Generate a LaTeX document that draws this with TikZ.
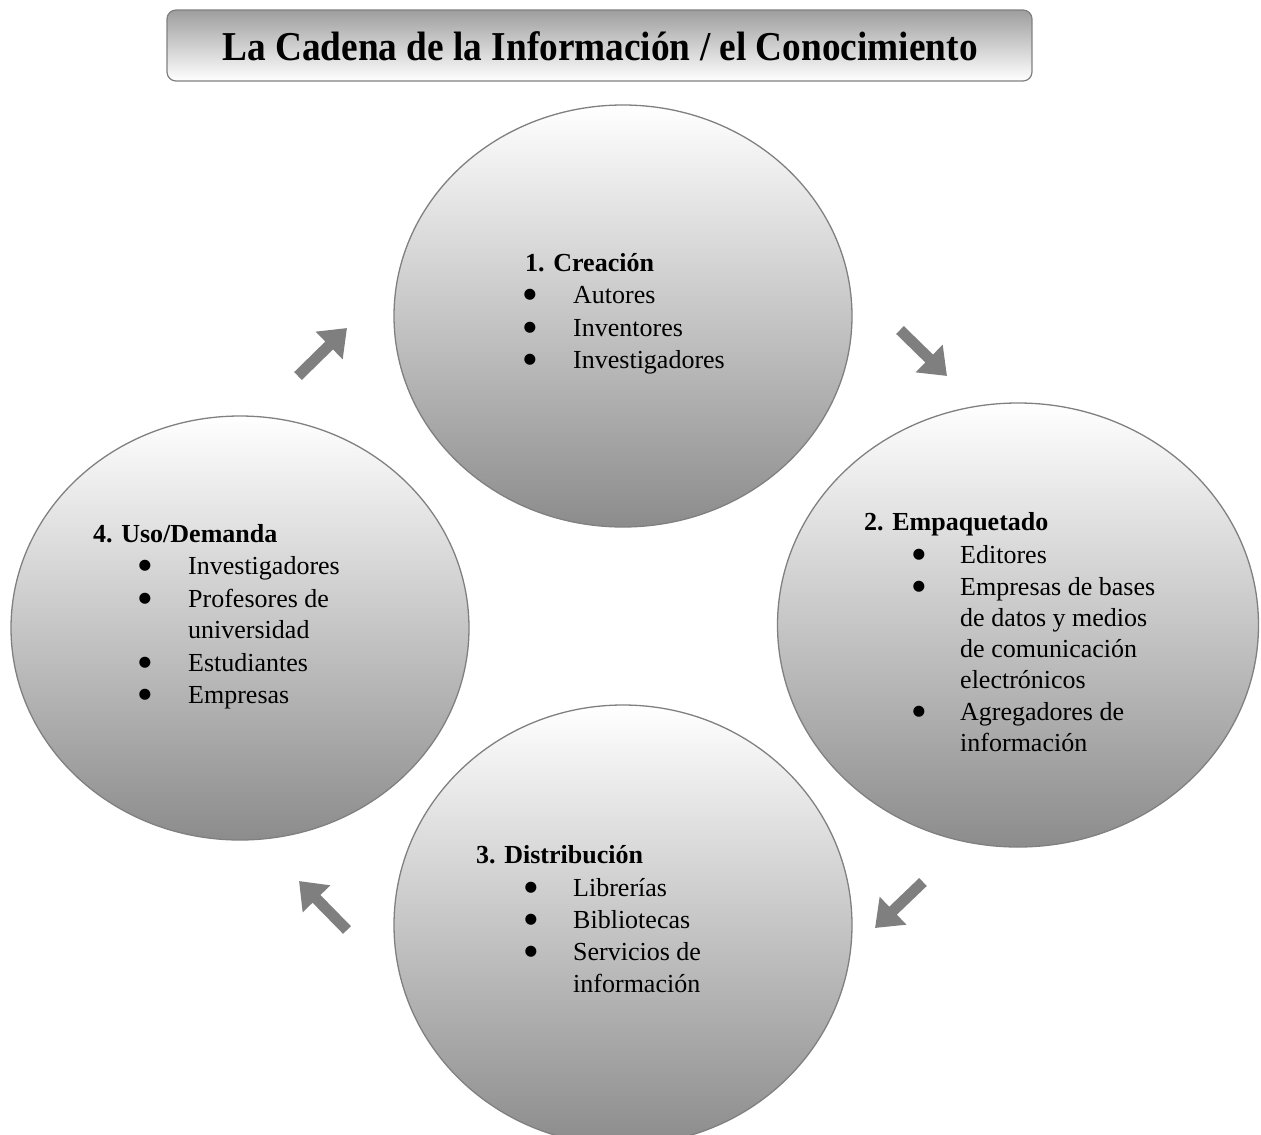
\documentclass[tikz,border=0pt]{standalone}
\usepackage{fontspec}
\usepackage{graphicx}
\setmainfont{Liberation Serif}
\newfontfamily\symfont{DejaVu Sans}
\usetikzlibrary{arrows.meta,shapes.geometric}
\definecolor{edgegray}{RGB}{128,128,128}
\definecolor{arrowgray}{RGB}{127,127,127}
\definecolor{circbot}{RGB}{140,140,140}
\definecolor{titletop}{RGB}{158,158,158}
\newcommand{\bigbul}{●}
\begin{document}
\begin{tikzpicture}[x=1pt,y=-1pt,
  stage/.style={ellipse,draw=edgegray,line width=1.3pt,top color=white,bottom color=circbot,inner sep=0pt},
  txt/.style={anchor=base west,inner sep=0pt,font=\fontsize{26}{32}\selectfont},
  head/.style={txt,font=\fontsize{26}{32}\selectfont\bfseries},
  bul/.style={anchor=center,inner sep=0pt,font=\symfont\fontsize{14.5}{14.5}\selectfont},
  blockarrow/.style={draw=arrowgray,line width=11pt,-{Triangle[width=37pt,length=25pt]},fill=arrowgray}
]
\useasboundingbox (0,0) rectangle (1261,1135);
% title
\node[draw=edgegray,line width=1.2pt,rounded corners=9pt,top color=titletop,bottom color=white,
      minimum width=865pt,minimum height=71pt,inner sep=0pt] (title) at (599.5,45.5) {};
\node[anchor=base,inner sep=0pt,font=\fontsize{37.3}{40}\selectfont\bfseries] (titletext) at (600,60)
  {\scalebox{1}[1.1]{La Cadena de la Información / el Conocimiento}};
% circles
\node[stage,minimum width=458pt,minimum height=422pt] (c1) at (623,316) {};
\node[stage,minimum width=481pt,minimum height=444pt] (c2) at (1018,625) {};
\node[stage,minimum width=458pt,minimum height=440pt] (c3) at (623,925) {};
\node[stage,minimum width=458pt,minimum height=424pt] (c4) at (240,628) {};
% texts circle 1
\node[head] (h1) at (525,271) {1. Creación};
\node[bul] (b11) at (530,295) {\bigbul}; \node[txt] (t11) at (573,303) {Autores};
\node[bul] (b12) at (530,328) {\bigbul}; \node[txt] (t12) at (573,336) {Inventores};
\node[bul] (b13) at (530,360) {\bigbul}; \node[txt] (t13) at (573,368) {Investigadores};
% texts circle 2
\node[head] (h2) at (864,530) {2. Empaquetado};
\node[bul] (b21) at (919,555) {\bigbul}; \node[txt] (t21) at (960,563) {Editores};
\node[bul] (b22) at (919,587) {\bigbul}; \node[txt] (t22) at (960,595) {Empresas de bases};
\node[txt] (t23) at (960,626) {de datos y medios};
\node[txt] (t24) at (960,657) {de comunicación};
\node[txt] (t25) at (960,688) {electrónicos};
\node[bul] (b26) at (919,712) {\bigbul}; \node[txt] (t26) at (960,720) {Agregadores de};
\node[txt] (t27) at (960,751) {información};
% texts circle 3
\node[head] (h3) at (476,863) {3. Distribución};
\node[bul] (b31) at (531,888) {\bigbul}; \node[txt] (t31) at (573,896) {Librerías};
\node[bul] (b32) at (531,920) {\bigbul}; \node[txt] (t32) at (573,928) {Bibliotecas};
\node[bul] (b33) at (531,952) {\bigbul}; \node[txt] (t33) at (573,960) {Servicios de};
\node[txt] (t34) at (573,992) {información};
% texts circle 4
\node[head] (h4) at (93,542) {4. Uso/Demanda};
\node[bul] (b41) at (145,566) {\bigbul}; \node[txt] (t41) at (188,574) {Investigadores};
\node[bul] (b42) at (145,599) {\bigbul}; \node[txt] (t42) at (188,607) {Profesores de};
\node[txt] (t43) at (188,638) {universidad};
\node[bul] (b44) at (145,663) {\bigbul}; \node[txt] (t44) at (188,671) {Estudiantes};
\node[bul] (b45) at (145,695) {\bigbul}; \node[txt] (t45) at (188,703) {Empresas};
% arrows
\coordinate (a1s) at (900,330); \coordinate (a1e) at (947,376);
\coordinate (a2s) at (923,882); \coordinate (a2e) at (875,928);
\coordinate (a3s) at (347,930); \coordinate (a3e) at (299,881);
\coordinate (a4s) at (298,376); \coordinate (a4e) at (347,328);
\draw[blockarrow] (a1s) -- (a1e);
\draw[blockarrow] (a2s) -- (a2e);
\draw[blockarrow] (a3s) -- (a3e);
\draw[blockarrow] (a4s) -- (a4e);
\end{tikzpicture}
\end{document}
